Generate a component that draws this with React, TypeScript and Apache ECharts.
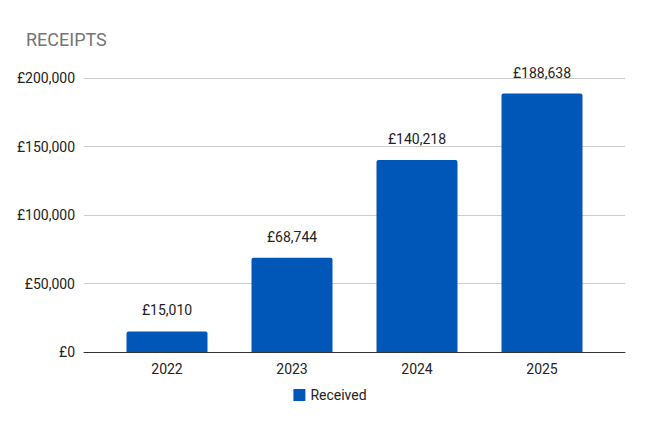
import React, { useEffect, useRef } from 'react';
import * as echarts from 'echarts';

const years = ['2022', '2023', '2024', '2025'];
const received = [15010, 68744, 140218, 188638];

const fmt = (v: number) => '£' + v.toLocaleString('en-GB');

const App: React.FC = () => {
  const chartRef = useRef<HTMLDivElement>(null);

  useEffect(() => {
    if (!chartRef.current) return;
    const myChart = echarts.init(chartRef.current, undefined, { renderer: 'svg' });

    // grid 0 carries the gridlines and baseline across the full width,
    // grid 1 is inset so the bars sit with the padding the sheet chart has
    const option: echarts.EChartsOption = {
      animation: false,
      textStyle: { fontFamily: 'Roboto' },
      title: {
        text: 'RECEIPTS',
        left: 21,
        top: 25,
        textStyle: { fontSize: 18, fontWeight: 'normal', color: '#757575', fontFamily: 'Roboto' },
      },
      grid: [
        { left: 84, right: 35, top: 78, bottom: 71, containLabel: false },
        { left: 104.5, right: 55.5, top: 78, bottom: 71, containLabel: false },
      ],
      legend: {
        data: ['Received'],
        top: 383,
        left: 'center',
        icon: 'rect',
        itemWidth: 12,
        itemHeight: 12,
        itemGap: 8,
        textStyle: { fontSize: 14, color: '#222' },
      },
      xAxis: [
        {
          type: 'category',
          gridIndex: 0,
          data: years,
          axisLine: { lineStyle: { color: '#333', width: 1 } },
          axisTick: { show: false },
          axisLabel: { show: false },
          z: 5,
        },
        {
          type: 'category',
          gridIndex: 1,
          data: years,
          axisLine: { show: false },
          axisTick: { show: false },
          axisLabel: { fontSize: 14, color: '#222', margin: 10 },
        },
      ],
      yAxis: [
        {
          type: 'value',
          gridIndex: 0,
          min: 0,
          max: 200000,
          interval: 50000,
          axisLine: { show: false },
          axisTick: { show: false },
          splitLine: { lineStyle: { color: '#cccccc' } },
          axisLabel: { fontSize: 14, color: '#222', margin: 9, formatter: (v: number) => fmt(v) },
        },
        {
          type: 'value',
          gridIndex: 1,
          min: 0,
          max: 200000,
          interval: 50000,
          show: false,
        },
      ],
      series: [
        {
          name: 'Received',
          type: 'bar',
          xAxisIndex: 1,
          yAxisIndex: 1,
          data: received,
          barWidth: 81,
          itemStyle: { color: '#0057b8', borderRadius: [2, 2, 0, 0] },
          label: {
            show: true,
            position: 'top',
            distance: 14,
            fontSize: 14,
            color: '#222',
            formatter: (p: any) => fmt(p.value),
          },
        },
      ],
    };

    myChart.setOption(option);
    return () => myChart.dispose();
  }, []);

  return <div ref={chartRef} style={{ width: 660, height: 423, margin: -8 }} />;
};

export default App;
